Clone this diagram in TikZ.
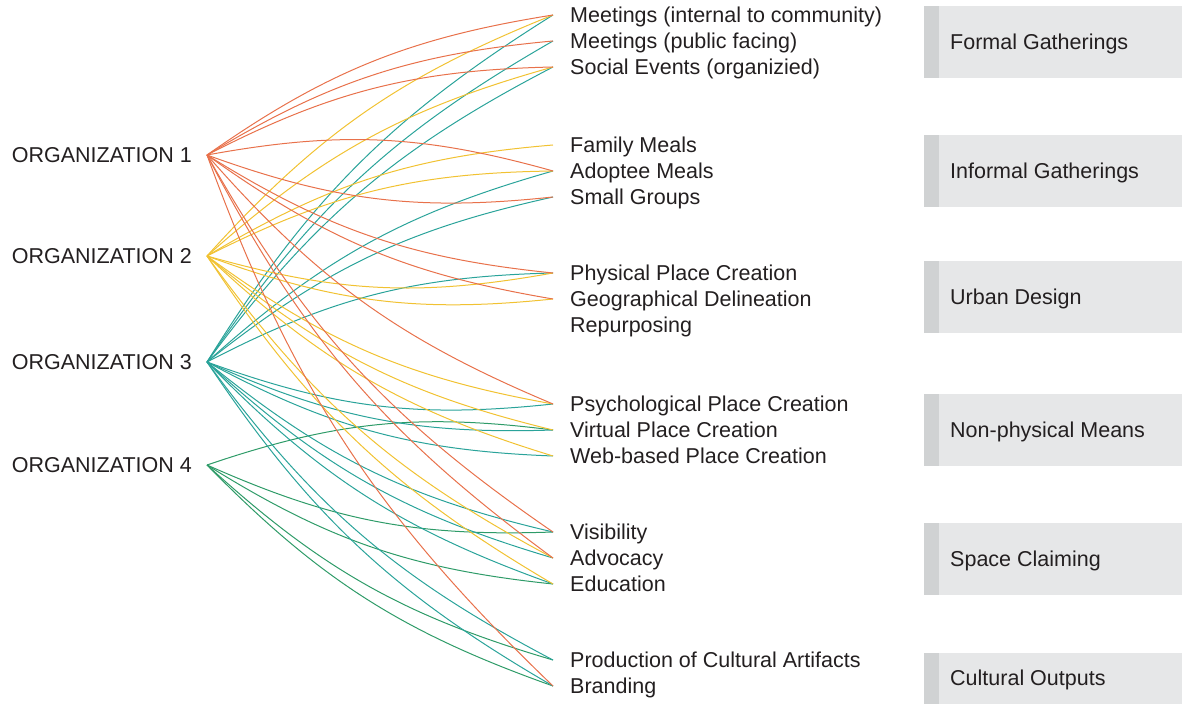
\documentclass[tikz,border=0pt]{standalone}
\usepackage{fontspec}
\setmainfont{Liberation Sans}
\definecolor{cred}{HTML}{E8714B}
\definecolor{cyel}{HTML}{F1C232}
\definecolor{cteal}{HTML}{2AA39A}
\definecolor{cgreen}{HTML}{2E9B68}
\definecolor{txt}{HTML}{231F20}
\definecolor{boxfill}{HTML}{E6E7E8}
\definecolor{boxstrip}{HTML}{D0D2D3}
\begin{document}
\begin{tikzpicture}[x=1pt,y=1pt,
  lbl/.style={font=\fontsize{21.5}{24}\selectfont, text=txt, text height=15.4pt, text depth=0pt, inner ysep=0pt},
  org/.style={lbl, anchor=east, inner xsep=15pt},
  tgt/.style={lbl, anchor=west, inner xsep=17pt},
  grp/.style={lbl, anchor=west, inner xsep=0pt},
  lk/.style={line width=1pt},
  up/.style={lk, bend left=13},
  dn/.style={lk, bend right=13}]
\useasboundingbox (0,0) rectangle (1182,704);

% group boxes
\foreach \ya/\yb in {626/698, 497/569, 371/443, 238/310, 109/181, 0/51}{
  \fill[boxfill] (924,\ya) rectangle (1182,\yb);
  \fill[boxstrip] (924,\ya) rectangle (939,\yb);
}
\node[grp] (g1) at (950,662) {Formal Gatherings};
\node[grp] (g2) at (950,533) {Informal Gatherings};
\node[grp] (g3) at (950,407) {Urban Design};
\node[grp] (g4) at (950,274) {Non-physical Means};
\node[grp] (g5) at (950,145) {Space Claiming};
\node[grp] (g6) at (950,26) {Cultural Outputs};

% organizations
\node[org] (o1) at (207,549) {ORGANIZATION 1};
\node[org] (o2) at (207,448) {ORGANIZATION 2};
\node[org] (o3) at (207,342) {ORGANIZATION 3};
\node[org] (o4) at (207,239) {ORGANIZATION 4};

% targets
\node[tgt] (t1) at (553,689) {Meetings (internal to community)};
\node[tgt] (t2) at (553,663) {Meetings (public facing)};
\node[tgt] (t3) at (553,637) {Social Events (organizied)};
\node[tgt] (t4) at (553,559) {Family Meals};
\node[tgt] (t5) at (553,533) {Adoptee Meals};
\node[tgt] (t6) at (553,507) {Small Groups};
\node[tgt] (t7) at (553,431) {Physical Place Creation};
\node[tgt] (t8) at (553,405) {Geographical Delineation};
\node[tgt] (t9) at (553,379) {Repurposing};
\node[tgt] (t10) at (553,300) {Psychological Place Creation};
\node[tgt] (t11) at (553,274) {Virtual Place Creation};
\node[tgt] (t12) at (553,248) {Web-based Place Creation};
\node[tgt] (t13) at (553,172) {Visibility};
\node[tgt] (t14) at (553,146) {Advocacy};
\node[tgt] (t15) at (553,120) {Education};
\node[tgt] (t16) at (553,44) {Production of Cultural Artifacts};
\node[tgt] (t17) at (553,18) {Branding};

% organization 4
\foreach \t in {t11} \draw[up,cgreen] (o4.east) to (\t.west);
\foreach \t in {t13,t15,t16,t17} \draw[dn,cgreen] (o4.east) to (\t.west);
% organization 3
\foreach \t in {t1,t2,t3,t5,t6,t7} \draw[up,cteal] (o3.east) to (\t.west);
\foreach \t in {t10,t11,t12,t13,t14,t15,t16,t17} \draw[dn,cteal] (o3.east) to (\t.west);
% organization 2
\foreach \t in {t1,t3,t4,t5} \draw[up,cyel] (o2.east) to (\t.west);
\foreach \t in {t7,t8,t10,t11,t12,t14,t15} \draw[dn,cyel] (o2.east) to (\t.west);
% organization 1
\foreach \t in {t1,t2,t3,t5} \draw[up,cred] (o1.east) to (\t.west);
\foreach \t in {t6,t7,t8,t10,t13,t14,t17} \draw[dn,cred] (o1.east) to (\t.west);
\end{tikzpicture}
\end{document}
